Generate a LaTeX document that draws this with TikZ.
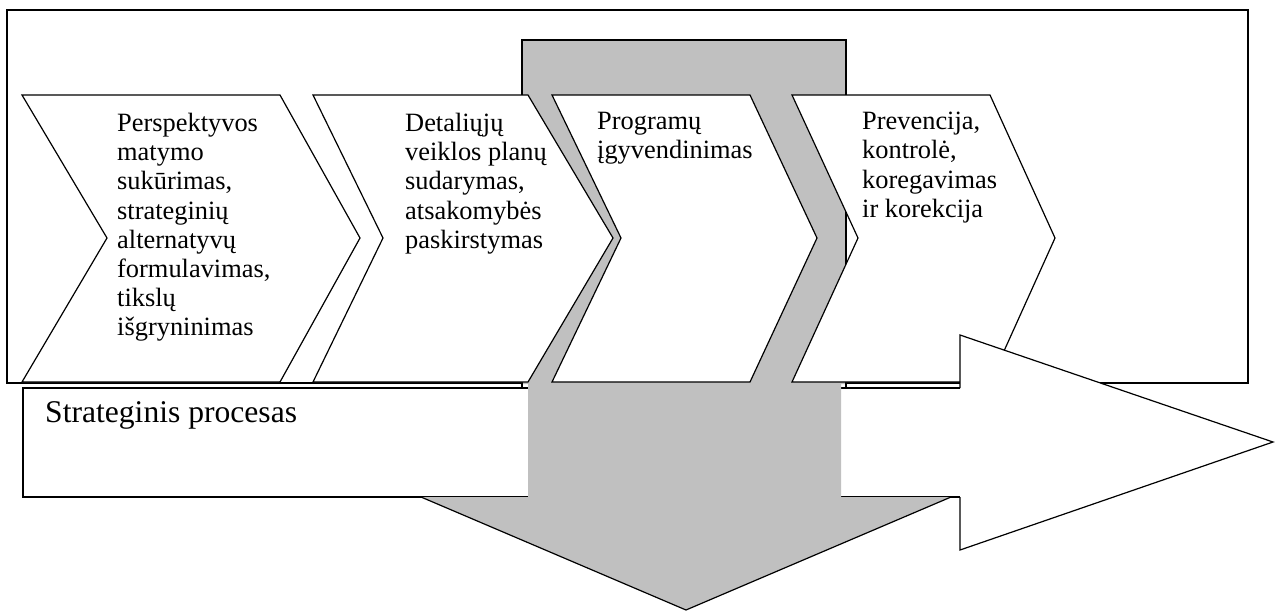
\documentclass[tikz,border=0pt]{standalone}
\usepackage{fontspec}
\setmainfont{Liberation Serif}
\definecolor{shaftgray}{RGB}{192,192,192}
\begin{document}
\begin{tikzpicture}[x=1pt,y=-1pt,
  outline/.style={draw=black,line width=1.2pt},
  frame/.style={draw=black,line width=1.8pt,fill=white},
  chevron/.style={outline,fill=white},
  steptext/.style={anchor=north west,inner sep=0pt,align=left,
    font=\fontsize{26.4}{29.2}\selectfont},
  bartext/.style={anchor=base west,inner sep=0pt,
    font=\fontsize{31.6}{34}\selectfont}]
\useasboundingbox (0,0) rectangle (1279,611);

% outer frame
\draw[frame] (7,10) rectangle (1248,383);

% shaft of the horizontal process arrow
\fill[white] (23,388) rectangle (960,497);
\draw[outline] (960,388) -- (23,388) -- (23,497) -- (960,497);

% grey downward arrow
\fill[shaftgray] (522,40) -- (846,40) -- (846,384) -- (841,384) -- (841,497)
  -- (951,497) -- (686,610) -- (421,497) -- (528,497) -- (528,384)
  -- (522,384) -- cycle;
\draw[outline] (522,388) -- (522,40) -- (846,40) -- (846,388);
\draw[outline] (421,497) -- (686,610) -- (951,497);

% the four process steps
\draw[chevron] (22,95) -- (280,95) -- (360,238) -- (280,382) -- (22,382) -- (107,238) -- cycle;
\draw[chevron] (313,95) -- (528,95) -- (613,238) -- (528,382) -- (313,382) -- (383,238) -- cycle;
\draw[chevron] (552,95) -- (750,95) -- (817,238) -- (750,382) -- (552,382) -- (621,238) -- cycle;
\draw[chevron] (792,95) -- (990,95) -- (1055,238) -- (990,382) -- (792,382) -- (858,238) -- cycle;

% head of the horizontal process arrow
\fill[white] (960,388) -- (960,335) -- (1273,442) -- (960,550) -- (960,497) -- cycle;
\draw[outline] (960,388) -- (960,335) -- (1273,442) -- (960,550) -- (960,497);

% labels
\node[steptext] (s1) at (117,113) {Perspektyvos\\matymo\\sukūrimas,\\strateginių\\alternatyvų\\formulavimas,\\tikslų\\išgryninimas};
\node[steptext] (s2) at (405,113) {Detaliųjų\\veiklos planų\\sudarymas,\\atsakomybės\\paskirstymas};
\node[steptext] (s3) at (597,112) {Programų\\įgyvendinimas};
\node[steptext] (s4) at (862,112) {Prevencija,\\kontrolė,\\koregavimas\\ir korekcija};
\node[bartext] (proc) at (45,422) {Strateginis procesas};
\end{tikzpicture}
\end{document}
